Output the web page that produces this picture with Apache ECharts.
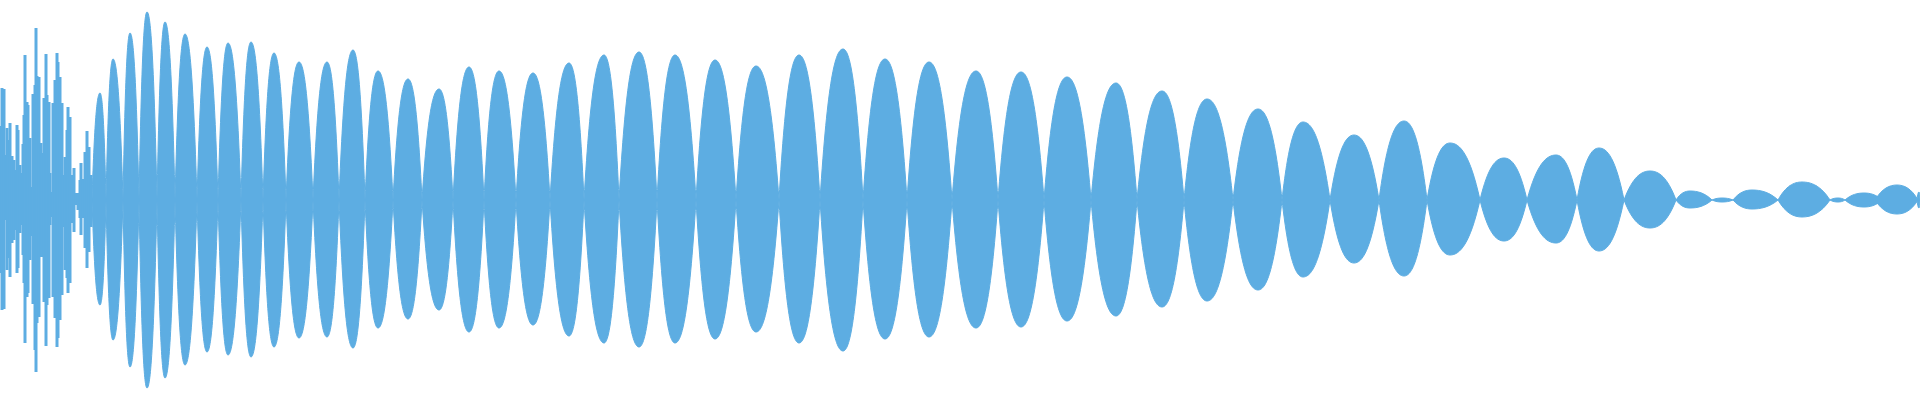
<!DOCTYPE html>
<html>
<head>
<meta charset="utf-8">
<script src="https://cdn.jsdelivr.net/npm/echarts@6/dist/echarts.min.js"></script>
<style>
  html, body { margin: 0; padding: 0; background: #ffffff; }
  #chart { width: 1920px; height: 400px; }
</style>
</head>
<body>
<div id="chart"></div>
<script>
// Each lobe of the beating waveform: start node, crest, end node (sample index)
var lobeStart = [92, 106, 123, 139, 157, 175, 197, 218, 241, 263, 286, 313, 339, 365, 393, 422, 453, 484, 516, 550, 584, 619, 657, 696, 736, 779, 820, 863, 907, 952, 998, 1044, 1091, 1137, 1184, 1233, 1282, 1330, 1379, 1427, 1480, 1527, 1577, 1624, 1676, 1712, 1733, 1778, 1830, 1845, 1875, 1917];
var lobeCrest = [100, 113, 130, 147, 165, 185, 207, 228, 251, 274, 299, 327, 353, 378, 408, 439, 469, 499, 533, 569, 604, 639, 675, 715, 756, 799, 843, 885, 929, 976, 1021, 1067, 1116, 1162, 1207, 1258, 1303, 1354, 1404, 1450, 1504, 1556, 1599, 1650, 1690, 1722, 1752, 1802, 1838, 1864, 1897, 1919];
var lobeEnd   = [106, 123, 139, 157, 175, 197, 218, 241, 263, 286, 313, 339, 365, 393, 422, 453, 484, 516, 550, 584, 619, 657, 696, 736, 779, 820, 863, 907, 952, 998, 1044, 1091, 1137, 1184, 1233, 1282, 1330, 1379, 1427, 1480, 1527, 1577, 1624, 1676, 1712, 1733, 1778, 1830, 1845, 1882, 1918, 1920];
// Positive and negative crest amplitude of each lobe
var crestUp   = [107, 141, 167, 188, 178, 166, 153, 157, 158, 147, 138, 138, 150, 129, 121, 111, 133, 129, 127, 137, 145, 148, 145, 140, 134, 145, 151, 141, 138, 129, 128, 123, 117, 109, 101, 91, 78, 65, 79, 57, 42, 45, 52, 29, 9, 2, 10, 18, 2, 7, 15, 8];
var crestDown = [-105, -140, -167, -188, -178, -165, -152, -155, -157, -147, -138, -137, -148, -128, -119, -110, -132, -128, -125, -136, -143, -147, -143, -139, -132, -143, -151, -139, -137, -128, -127, -121, -116, -107, -101, -90, -77, -63, -76, -55, -41, -43, -51, -28, -8, -2, -9, -17, -2, -7, -14, -8];

// Irregular onset transient: per-column peaks
var spikeFrames = [0, 2, 4, 6, 7, 8, 10, 12, 14, 16, 17, 18, 20, 22, 23, 24, 25, 27, 28, 30, 32, 33, 35, 36, 37, 39, 41, 42, 44, 46, 47, 49, 50, 52, 53, 55, 57, 58, 60, 62, 63, 65, 67, 68, 70, 72, 74, 76, 78, 80, 81, 83, 85, 87, 89, 91];
var spikeUp = [74, 112, 111, 45, 72, 60, 77, 44, 40, 30, 75, 70, 35, 27, 56, 85, 145, 98, 95, 62, 13, 106, 115, 172, 124, 123, 57, 47, 102, 146, 105, 98, 27, 8, 97, 120, 147, 138, 123, 97, 25, 43, 70, 93, 83, 25, 32, 7, 7, 20, 37, 21, 48, 69, 53, 25];
var spikeDown = [-73, -110, -109, -20, -70, -58, -77, -43, -40, -30, -73, -68, -33, -25, -55, -83, -143, -97, -93, -60, -36, -104, -150, -172, -123, -117, -57, -57, -102, -146, -105, -98, -25, -17, -97, -118, -147, -138, -120, -95, -27, -70, -78, -93, -83, -23, -32, -5, -10, -18, -35, -18, -48, -68, -52, -27];

var COLOR = '#5dade2';

var lobeData = lobeStart.map(function (s, i) {
  return [s, lobeCrest[i], lobeEnd[i], crestUp[i], crestDown[i]];
});
var spikeUpData = spikeFrames.map(function (f, i) { return [f, spikeUp[i]]; });
var spikeDownData = spikeFrames.map(function (f, i) { return [f, spikeDown[i]]; });

// Lens-shaped envelope: steep at the nodes, rounded at the crest
function halfCurve(xa, ya, xb, yb, base) {
  // cubic from node (xa, base) to crest (xb, yb) or crest to node
  return [xa, ya, xb, yb];
}
function renderLobe(params, api) {
  var s = api.value(0), c = api.value(1), e = api.value(2);
  var u = api.value(3), d = api.value(4);
  var p0 = api.coord([s, 0]);
  var pe = api.coord([e, 0]);
  var pu = api.coord([c, u]);
  var pd = api.coord([c, d]);
  var y0 = p0[1];
  var wl = pu[0] - p0[0], wr = pe[0] - pu[0];
  var k = 0.8;
  var uy = y0 + (pu[1] - y0) * k, dy = y0 + (pd[1] - y0) * k;
  var path =
    'M' + p0[0] + ' ' + y0 +
    ' C' + (p0[0] + wl / 3) + ' ' + uy + ' ' + (pu[0] - wl / 3) + ' ' + pu[1] + ' ' + pu[0] + ' ' + pu[1] +
    ' C' + (pu[0] + wr / 3) + ' ' + pu[1] + ' ' + (pe[0] - wr / 3) + ' ' + uy + ' ' + pe[0] + ' ' + y0 +
    ' C' + (pe[0] - wr / 3) + ' ' + dy + ' ' + (pd[0] + wr / 3) + ' ' + pd[1] + ' ' + pd[0] + ' ' + pd[1] +
    ' C' + (pd[0] - wl / 3) + ' ' + pd[1] + ' ' + (p0[0] + wl / 3) + ' ' + dy + ' ' + p0[0] + ' ' + y0 + ' Z';
  return {
    type: 'path',
    shape: { pathData: path },
    style: { fill: COLOR, stroke: COLOR, lineWidth: 1 }
  };
}

function spikeSeries(name, data) {
  return {
    name: name,
    type: 'bar',
    stack: 'onset',
    data: data,
    barWidth: 3,
    silent: true,
    itemStyle: { color: COLOR },
    z: 3
  };
}

var chart = echarts.init(document.getElementById('chart'), null, { renderer: 'canvas' });
chart.setOption({
  animation: false,
  backgroundColor: '#ffffff',
  grid: { left: 0, right: 0, top: 0, bottom: 0, containLabel: false },
  xAxis: { type: 'value', min: 0, max: 1920, show: false, splitLine: { show: false } },
  yAxis: { type: 'value', min: -200, max: 200, show: false, splitLine: { show: false } },
  series: [
    {
      name: 'lobes',
      type: 'custom',
      renderItem: renderLobe,
      data: lobeData,
      encode: { x: [0, 1, 2], y: [3, 4] },
      silent: true,
      clip: false,
      z: 2
    },
    spikeSeries('onsetUp', spikeUpData),
    spikeSeries('onsetDown', spikeDownData)
  ]
});
</script>
</body>
</html>
